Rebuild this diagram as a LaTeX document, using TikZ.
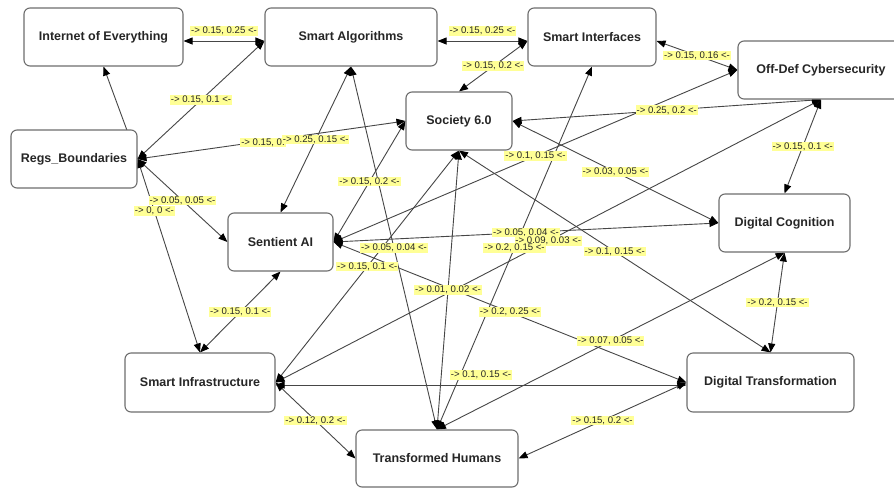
\documentclass[tikz,border=0pt]{standalone}
\usepackage{fontspec}
\setmainfont{Liberation Sans}
\usetikzlibrary{arrows.meta}
\definecolor{labyellow}{RGB}{255,255,150}
\definecolor{linecol}{RGB}{70,70,70}
\definecolor{boxcol}{RGB}{110,110,110}
\pgfdeclarelayer{bg}
\pgfsetlayers{bg,main}
\begin{document}
\begin{tikzpicture}[x=1pt,y=-1pt,
 box/.style={draw=boxcol,line width=1.1pt,fill=white,rounded corners=6pt,inner sep=0pt,minimum height=58pt,font=\fontsize{12.5}{14}\selectfont\bfseries,text=black!85},
 lab/.style={fill=labyellow,inner sep=0.9pt,font=\fontsize{9.6}{10}\selectfont,text=black!85},
 conn/.style={draw=linecol,line width=0.9pt},
 >={Triangle[length=9pt,width=7pt,color=black]}]
\useasboundingbox (0,0) rectangle (894,488);
\node[box,minimum width=159pt] (ioe) at (103.5,37) {Internet of Everything};
\node[box,minimum width=172pt] (sa) at (351,37) {Smart Algorithms};
\node[box,minimum width=128pt] (si) at (592,37) {Smart Interfaces};
\node[box,minimum width=166pt] (od) at (821,70) {Off-Def Cybersecurity};
\node[box,minimum width=106pt] (soc) at (459,121) {Society 6.0};
\node[box,minimum width=126pt] (regs) at (74,159) {Regs\_Boundaries};
\node[box,minimum width=105pt] (sent) at (280.5,242) {Sentient AI};
\node[box,minimum width=131pt] (dc) at (784.5,223) {Digital Cognition};
\node[box,minimum width=150pt,minimum height=59pt] (infra) at (200,382.5) {Smart Infrastructure};
\node[box,minimum width=167pt,minimum height=59pt] (dt) at (770.5,382.5) {Digital Transformation};
\node[box,minimum width=162pt,minimum height=57pt] (th) at (437,458.5) {Transformed Humans};
\begin{pgfonlayer}{bg}
\fill[white] (0,0) rectangle (894,488);
\draw[conn,<->] ([yshift=-4pt]ioe.east) -- coordinate (m1) ([yshift=-4pt]sa.west);
\draw[conn,<->] ([yshift=-4pt]sa.east) -- coordinate (m2) ([yshift=-4pt]si.west);
\draw[conn,<->] ([yshift=-4pt]si.west) -- coordinate (m3) (soc.north);
\draw[conn,<->] ([yshift=-4pt]si.east) -- coordinate (m4) (od.west);
\draw[conn,->] (regs.east) -- (ioe.south);
\draw[conn,<->] (regs.east) -- coordinate (m6) ([yshift=-4pt]sa.west);
\draw[conn,<->] (regs.east) -- coordinate[pos=0.383] (m7) (soc.west);
\draw[conn,<->] (sa.south) -- coordinate (m8) (sent.north);
\draw[conn,<->] (sa.south) -- coordinate (m9) (th.north);
\draw[conn,<->] (sent.east) -- coordinate (m10) (soc.west);
\draw[conn,<->] (sent.east) -- coordinate (m11) (od.west);
\draw[conn,<->] (soc.east) -- coordinate (m12) (od.south);
\draw[conn,<->] (od.south) -- coordinate (m13) (dc.north);
\draw[conn,<->] (soc.east) -- coordinate (m14) (dc.west);
\draw[conn,<->] (soc.south) -- coordinate (m15) (dt.north);
\draw[conn,<->] (soc.south) -- coordinate (m16) (th.north);
\draw[conn,<->] (soc.south) -- coordinate (m17) (infra.east);
\draw[conn,<->] (sent.east) -- coordinate (m18) (dc.west);
\draw[conn,<->] (sent.east) -- coordinate (m19) (dt.west);
\draw[conn,<->] (infra.east) -- coordinate (m20) (od.south);
\draw[conn,<->] (sent.south) -- coordinate (m21) (infra.north);
\draw[conn,<->] (regs.east) -- coordinate (m22) (sent.west);
\draw[conn,<->] (regs.east) -- coordinate[pos=0.27] (m23) (infra.north);
\draw[conn,<->] ([yshift=-2.5pt]infra.east) -- coordinate (m24) ([yshift=-2.5pt]dt.west);
\draw[conn,<->] (infra.east) -- coordinate (m25) (th.west);
\draw[conn,<->] (th.north) -- coordinate (m26) (dc.south);
\draw[conn,<->] (dc.south) -- coordinate (m27) (dt.north);
\draw[conn,<->] (th.east) -- coordinate (m28) (dt.west);
\draw[conn,<->] (th.north) -- coordinate (m29) (si.south);
\node[lab,yshift=10pt] (l1) at (m1) {-> 0.15, 0.25 <-};
\node[lab,yshift=10pt] (l2) at (m2) {-> 0.15, 0.25 <-};
\node[lab] (l3) at (m3) {-> 0.15, 0.2 <-};
\node[lab] (l4) at (m4) {-> 0.15, 0.16 <-};
\node[lab] (l6) at (m6) {-> 0.15, 0.1 <-};
\node[lab,anchor=west,yshift=2pt] (l7) at (m7) {-> 0.15, 0.};
\node[lab] (l8) at (m8) {-> 0.25, 0.15 <-};
\node[lab] (l9) at (m9) {-> 0.05, 0.04 <-};
\node[lab] (l10) at (m10) {-> 0.15, 0.2 <-};
\node[lab] (l11) at (m11) {-> 0.1, 0.15 <-};
\node[lab] (l12) at (m12) {-> 0.25, 0.2 <-};
\node[lab] (l13) at (m13) {-> 0.15, 0.1 <-};
\node[lab] (l14) at (m14) {-> 0.03, 0.05 <-};
\node[lab] (l15) at (m15) {-> 0.1, 0.15 <-};
\node[lab] (l16) at (m16) {-> 0.01, 0.02 <-};
\node[lab] (l17) at (m17) {-> 0.15, 0.1 <-};
\node[lab] (l18) at (m18) {-> 0.05, 0.04 <-};
\node[lab] (l19) at (m19) {-> 0.2, 0.25 <-};
\node[lab] (l20) at (m20) {-> 0.09, 0.03 <-};
\node[lab] (l21) at (m21) {-> 0.15, 0.1 <-};
\node[lab] (l22) at (m22) {-> 0.05, 0.05 <-};
\node[lab] (l23) at (m23) {-> 0, 0 <-};
\node[lab,yshift=10pt] (l24) at (m24) {-> 0.1, 0.15 <-};
\node[lab] (l25) at (m25) {-> 0.12, 0.2 <-};
\node[lab] (l26) at (m26) {-> 0.07, 0.05 <-};
\node[lab] (l27) at (m27) {-> 0.2, 0.15 <-};
\node[lab] (l28) at (m28) {-> 0.15, 0.2 <-};
\node[lab] (l29) at (m29) {-> 0.2, 0.15 <-};
\end{pgfonlayer}
\end{tikzpicture}
\end{document}
